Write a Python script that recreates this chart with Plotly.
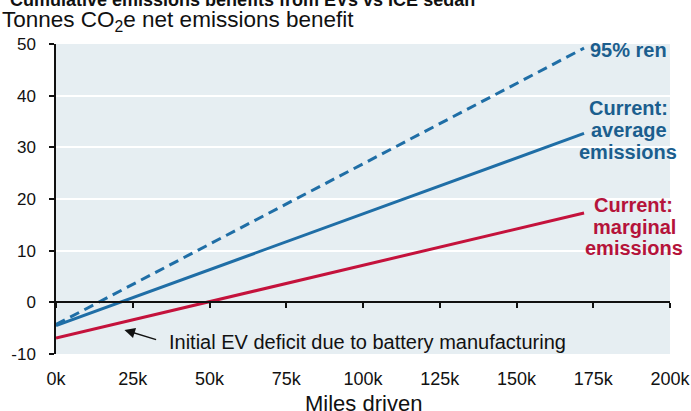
import plotly.graph_objects as go

# ---- data ----
miles = [0, 172000]
ren95 = [-4.3, 49.2]
avg_em = [-4.5, 32.7]
marg_em = [-6.9, 17.3]

x_ticks = [0, 25000, 50000, 75000, 100000, 125000, 150000, 175000, 200000]
x_labels = ["0k", "25k", "50k", "75k", "100k", "125k", "150k", "175k", "200k"]
y_ticks = [-10, 0, 10, 20, 30, 40, 50]
y_labels = ["-10", "0", "10", "20", "30", "40", "50"]

ren_label = ["95% ren"]
avg_label = ["Current:", "average", "emissions"]
marg_label = ["Current:", "marginal", "emissions"]

BLUE = "#1F6EA6"
BLUE_TXT = "#1B5E8E"
RED = "#C4123C"
RED_TXT = "#B5133A"
FONT = "Liberation Sans, Arial, sans-serif"

fig = go.Figure()
fig.add_trace(go.Scatter(x=miles, y=ren95, mode="lines",
                         line=dict(color=BLUE, width=3, dash="10px,6px"),
                         showlegend=False, hoverinfo="skip"))
fig.add_trace(go.Scatter(x=miles, y=avg_em, mode="lines",
                         line=dict(color=BLUE, width=3),
                         showlegend=False, hoverinfo="skip"))
fig.add_trace(go.Scatter(x=miles, y=marg_em, mode="lines",
                         line=dict(color=RED, width=3),
                         showlegend=False, hoverinfo="skip"))
# carrier for the zero-line axis
fig.add_trace(go.Scatter(x=[x_ticks[0]], y=[None], xaxis="x2", mode="lines",
                         showlegend=False, hoverinfo="skip"))

fig.update_layout(
    width=691, height=411,
    margin=dict(l=56, r=21, t=44, b=57),
    paper_bgcolor="white",
    plot_bgcolor="#E6EEF2",
    font=dict(family=FONT, color="#111111", size=17),
    xaxis=dict(range=[0, 200000], tickvals=x_ticks, ticktext=x_labels,
               showgrid=False, showline=False, zeroline=False, ticks="",
               tickfont=dict(size=18), ticklabelstandoff=12, automargin=False),
    xaxis2=dict(range=[0, 200000], overlaying="x", anchor="free",
                position=1/6, side="bottom", tickvals=x_ticks,
                showticklabels=False, showgrid=False, zeroline=False,
                showline=True, linecolor="#111111", linewidth=2,
                ticks="outside", ticklen=5, tickwidth=2, tickcolor="#111111",
                automargin=False),
    yaxis=dict(range=[-10, 50], tickvals=y_ticks, ticktext=y_labels, showgrid=True,
               gridcolor="white", gridwidth=1.5, zeroline=False,
               showline=True, linecolor="#111111", linewidth=1.5,
               ticks="outside", ticklen=5, tickcolor="#111111", tickwidth=1.5,
               tickfont=dict(size=17), ticklabelstandoff=10, automargin=False),
)

fig.add_annotation(text="Miles driven", xref="paper", yref="paper", x=0.5, y=0,
                   xanchor="center", yanchor="top", yshift=-35, showarrow=False,
                   font=dict(size=22, color="#111111"))

fig.add_annotation(text="<b>Cumulative emissions benefits from EVs vs ICE sedan</b>",
                   xref="paper", yref="paper", x=-48/614, y=1.0,
                   xanchor="left", yanchor="bottom", yshift=32,
                   showarrow=False, font=dict(size=18, color="#111111"))
fig.add_annotation(text="Tonnes CO<sub>2</sub>e net emissions benefit",
                   xref="paper", yref="paper", x=-56/614, y=1.0,
                   xanchor="left", yanchor="middle", yshift=23,
                   showarrow=False, font=dict(size=22.5, color="#111111"))

# right-hand line labels, one annotation per text line
for txt, xv, yv in zip(ren_label, [186600], [48.8]):
    fig.add_annotation(text="<b>%s</b>" % txt, x=xv, y=yv, showarrow=False,
                       font=dict(size=20, color=BLUE_TXT))
for txt, xv, yv in zip(avg_label, [186600, 186600, 186300], [37.7, 33.3, 29.1]):
    fig.add_annotation(text="<b>%s</b>" % txt, x=xv, y=yv, showarrow=False,
                       font=dict(size=20, color=BLUE_TXT))
for txt, xv, yv in zip(marg_label, [188200, 188500, 188200], [18.8, 14.6, 10.5]):
    fig.add_annotation(text="<b>%s</b>" % txt, x=xv, y=yv, showarrow=False,
                       font=dict(size=20, color=RED_TXT))

fig.add_annotation(text="Initial EV deficit due to battery manufacturing",
                   x=37000, y=-7.68, xanchor="left", xshift=-3, showarrow=False,
                   font=dict(size=20, color="#111111"))
fig.add_annotation(text="", x=22300, y=-5.36, ax=33100, ay=-7.3,
                   axref="x", ayref="y", showarrow=True,
                   arrowhead=2, arrowsize=1.4, arrowwidth=1.5, arrowcolor="#111111")

fig.write_html("out.html", config={"displayModeBar": False},
               post_script="document.body.style.margin='0';")
